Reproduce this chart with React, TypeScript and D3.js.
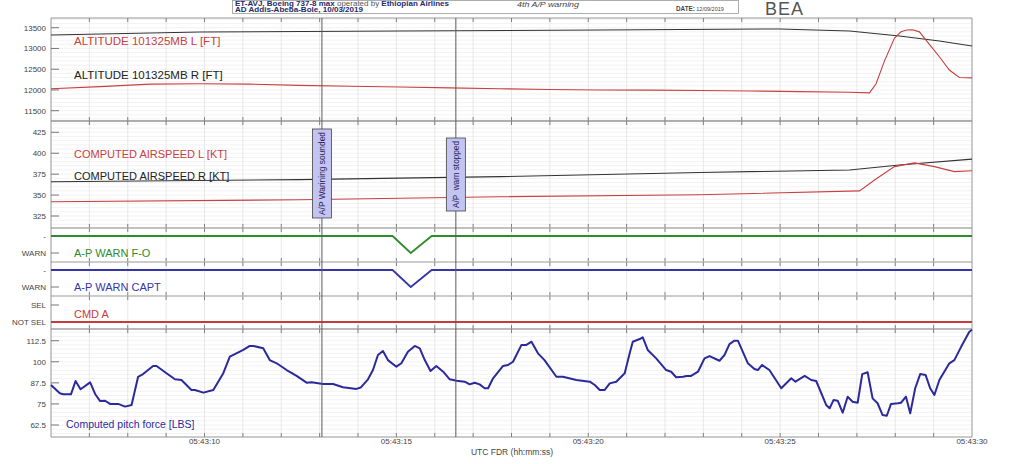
import React from "react";
import * as d3 from "d3";

const W = 1024;
const H = 464;
const FONT = "'Liberation Sans', Arial, sans-serif";

// time in seconds after 05:43:00
const altLT = [6.0, 7.28, 8.58, 9.88, 11.18, 12.48, 13.79, 15.09, 16.39, 17.69, 19.0, 20.3, 21.6, 22.9, 24.2, 25.5, 26.81, 27.33, 27.5, 27.72, 27.98, 28.15, 28.3, 28.45, 28.63, 28.89, 29.15, 29.41, 29.67, 30.0];
const altLV = [12030, 12080, 12140, 12150, 12140, 12110, 12090, 12070, 12050, 12030, 12010, 12000, 11995, 11985, 11975, 11960, 11945, 11930, 12150, 12700, 13250, 13400, 13445, 13450, 13400, 13100, 12800, 12480, 12300, 12290];
const altRT = [6.0, 9.88, 15.09, 20.3, 24.99, 26.81, 28.11, 29.15, 30.0];
const altRV = [13325, 13397, 13420, 13445, 13470, 13420, 13300, 13180, 13060];

const iasLT = [6.0, 12.48, 17.69, 22.9, 27.07, 27.46, 27.98, 28.5, 29.02, 29.54, 30.0];
const iasLV = [342, 344.4, 348, 350.4, 355, 368, 384, 388.5, 384, 378, 379];
const iasRT = [6.0, 12.48, 17.69, 22.9, 26.81, 28.11, 30.0];
const iasRV = [366, 368.5, 372, 377, 380, 386, 393];

const warnT = [6.0, 14.9, 15.375, 15.92, 30.0];
const warnFO = [0, 0, 1, 0, 0];
const warnCAPT = [0, 0, 1, 0, 0];
const cmdT = [6.0, 30.0];
const cmdA = [0, 0];

const pitchT = [6.0, 6.23, 6.32, 6.52, 6.64, 6.77, 7.02, 7.15, 7.28, 7.41, 7.54, 7.75, 7.93, 8.10, 8.27, 8.40, 8.66, 8.75, 9.01, 9.23, 9.40, 9.66, 9.75, 9.97, 10.23, 10.49, 10.66, 10.92, 11.01, 11.18, 11.27, 11.53, 11.70, 11.88, 12.14, 12.40, 12.66, 12.79, 13.09, 13.35, 13.61, 13.96, 14.07, 14.26, 14.39, 14.52, 14.65, 14.78, 15.00, 15.13, 15.30, 15.48, 15.61, 15.74, 15.89, 16.04, 16.22, 16.39, 16.57, 16.78, 16.91, 17.04, 17.17, 17.30, 17.39, 17.52, 17.78, 17.91, 18.04, 18.26, 18.39, 18.52, 18.69, 18.86, 19.17, 19.34, 19.69, 20.04, 20.17, 20.30, 20.43, 20.56, 20.73, 20.95, 21.08, 21.16, 21.34, 21.42, 21.55, 21.77, 22.03, 22.16, 22.29, 22.47, 22.56, 22.68, 22.86, 23.03, 23.16, 23.42, 23.55, 23.68, 23.81, 23.90, 24.16, 24.33, 24.42, 24.53, 24.72, 25.03, 25.29, 25.40, 25.64, 25.81, 25.94, 26.20, 26.29, 26.39, 26.50, 26.63, 26.76, 26.89, 27.02, 27.14, 27.28, 27.41, 27.54, 27.67, 27.78, 27.89, 28.07, 28.15, 28.28, 28.39, 28.52, 28.65, 28.79, 28.91, 29.02, 29.15, 29.41, 29.54, 29.72, 29.93, 30.0];
const pitchV = [86.2, 81.3, 80.7, 80.7, 88.6, 83.7, 87.8, 80.9, 76.7, 76.9, 75.0, 75.0, 73.4, 74.4, 91.1, 92.7, 97.5, 97.5, 93.2, 89.6, 89.2, 83.3, 83.3, 81.7, 83.3, 93.2, 103, 106, 107, 109.4, 109.4, 108, 101, 99.1, 95.1, 91.6, 87.6, 87.8, 86.8, 86.8, 84.9, 83.9, 84.7, 89.6, 95.1, 104, 106.4, 101, 97.1, 99.1, 106, 109.4, 108, 101, 94.5, 97.5, 94.1, 89.6, 88.8, 88.2, 86.6, 87.6, 86.6, 84.3, 84.3, 90.2, 97.5, 98.1, 100, 110, 110, 111.9, 105, 101, 91.1, 91.1, 89.2, 88.2, 86.2, 83.3, 83.3, 87.2, 88.2, 93.2, 105, 111.9, 113.5, 114.5, 107, 102, 95.1, 94.1, 90.8, 91.1, 91.6, 91.6, 94.1, 102, 103.4, 100.6, 104, 110.5, 112.5, 112.5, 99.1, 95.7, 95.1, 98.1, 95.1, 84.3, 90.2, 88.2, 91.6, 89.2, 88.6, 74.4, 72.4, 77.3, 76.9, 69.8, 79.3, 76.3, 75.7, 92.7, 93.8, 78.3, 75.4, 68.4, 68.0, 75.0, 75.4, 75.7, 79.3, 69.4, 84.3, 92.7, 92.2, 84.3, 80.3, 89.2, 99.1, 101, 109, 117.8, 119];

const altTicks = [11500, 12000, 12500, 13000, 13500];
const iasTicks = [325, 350, 375, 400, 425];
const pitchTicks = [62.5, 75, 87.5, 100, 112.5];
const xLabelTicks = [10, 15, 20, 25, 30];
const warnLabels = ["-", "WARN"];
const cmdLabels = ["NOT SEL", "SEL"];

const eventTimes = [13.06, 16.55];
const eventLabels = ["A/P Warining sounded", "A/P  warn stopped"];

const X0 = 51;
const X1 = 972;
const x = d3.scaleLinear().domain([6, 30]).range([X0, X1]);

const yAlt = d3.scaleLinear().domain([11500, 13500]).range([110.7, 27.7]);
const yIas = d3.scaleLinear().domain([325, 425]).range([216, 132.3]);
const yFO = d3.scaleLinear().domain([0, 1]).range([236, 253]);
const yCapt = d3.scaleLinear().domain([0, 1]).range([270, 287]);
const yCmd = d3.scaleLinear().domain([0, 1]).range([322, 305]);
const yPitch = d3.scaleLinear().domain([62.5, 112.5]).range([425, 340.7]);

const panels = [
  { top: 18, bottom: 121, y: yAlt, minor: 100, border: "#8a8a8a" },
  { top: 121, bottom: 228, y: yIas, minor: 5, border: "#8a8a8a" },
  { top: 228, bottom: 262, y: null, minor: 0, border: "#b5b5b5" },
  { top: 262, bottom: 296, y: null, minor: 0, border: "#b5b5b5" },
  { top: 296, bottom: 329, y: null, minor: 0, border: "#b5b5b5" },
  { top: 329, bottom: 437, y: yPitch, minor: 2.5, border: "#8a8a8a" },
];

function pathOf(ts: number[], vs: number[], y: d3.ScaleLinear<number, number>) {
  const pts = ts.map((t, i) => [t, vs[i]] as [number, number]);
  return d3.line<[number, number]>().x((d) => x(d[0])).y((d) => y(d[1]))(pts) || "";
}

function fmtTime(s: number) {
  return "05:43:" + String(s).padStart(2, "0");
}

export default function App() {
  const secs = d3.range(7, 30, 1);
  const labelStyle = { fontFamily: FONT, fontSize: 8, fill: "#444" } as const;

  return (
    <div style={{ position: "absolute", left: 0, top: 0, width: W, height: H, background: "#fff" }}>
      <svg width={W} height={H} style={{ display: "block" }}>
        <rect x={0} y={0} width={W} height={H} fill="#fff" />

        {/* header */}
        <rect x={232.5} y={0.5} width={506} height={13} fill="#fff" stroke="#999" strokeWidth={0.8} />
        <text x={235} y={6} fontFamily={FONT} fontSize={6.3} fill="#1f2a6a" textLength={214} lengthAdjust="spacingAndGlyphs">
          <tspan fontWeight="bold">ET-AVJ, Boeing 737-8 max</tspan>
          <tspan fill="#555"> operated by </tspan>
          <tspan fontWeight="bold">Ethiopian Airlines</tspan>
        </text>
        <text x={235} y={12} fontFamily={FONT} fontSize={6.3} fontWeight="bold" fill="#1f2a6a" textLength={128} lengthAdjust="spacingAndGlyphs">
          AD Addis-Abeba-Bole, 10/03/2019
        </text>
        <text x={517} y={7} fontFamily={FONT} fontSize={6.8} fontStyle="italic" fill="#444" textLength={62} lengthAdjust="spacingAndGlyphs">
          4th A/P warning
        </text>
        <text x={676} y={11} fontFamily={FONT} fontSize={6.3} fill="#444">
          <tspan fontWeight="bold">DATE:</tspan>
          <tspan fontSize={5.5}> 12/09/2019</tspan>
        </text>
        <text x={765} y={15} fontFamily={FONT} fontSize={18} fill="#555" letterSpacing={1}>
          BEA
        </text>

        {/* grids */}
        {panels.map((p, i) => (
          <g key={"g" + i}>
            {p.y &&
              d3
                .range(Math.ceil(p.y.invert(p.bottom) / p.minor) * p.minor, p.y.invert(p.top), p.minor)
                .map((v, j) => (
                  <line key={j} x1={X0} x2={X1} y1={p.y!(v)} y2={p.y!(v)} stroke="#ededed" strokeWidth={0.7} />
                ))}
            {secs.map((s) => (
              <line key={s} x1={x(s)} x2={x(s)} y1={p.top} y2={p.bottom} stroke="#e2e2e2" strokeWidth={0.8} />
            ))}
            {secs.map((s) => (
              <g key={"t" + s}>
                <line x1={x(s)} x2={x(s)} y1={p.top} y2={p.top + 4} stroke="#666" strokeWidth={0.8} />
                <line x1={x(s)} x2={x(s)} y1={p.bottom} y2={p.bottom - 4} stroke="#666" strokeWidth={0.8} />
              </g>
            ))}
            <line x1={X0} x2={X1} y1={p.top} y2={p.top} stroke={p.border} strokeWidth={0.9} />
            <line x1={X0} x2={X1} y1={p.bottom} y2={p.bottom} stroke={p.border} strokeWidth={0.9} />
          </g>
        ))}
        <line x1={X0} x2={X0} y1={18} y2={437} stroke="#8a8a8a" strokeWidth={0.9} />
        <line x1={X1} x2={X1} y1={18} y2={437} stroke="#8a8a8a" strokeWidth={0.9} />

        {/* y ticks */}
        {altTicks.map((v) => (
          <g key={"a" + v}>
            <line x1={X0} x2={X0 + 8} y1={yAlt(v)} y2={yAlt(v)} stroke="#777" />
            <text x={46} y={yAlt(v) + 3} textAnchor="end" {...labelStyle}>{v}</text>
          </g>
        ))}
        {iasTicks.map((v) => (
          <g key={"i" + v}>
            <line x1={X0} x2={X0 + 8} y1={yIas(v)} y2={yIas(v)} stroke="#777" />
            <text x={46} y={yIas(v) + 3} textAnchor="end" {...labelStyle}>{v}</text>
          </g>
        ))}
        {pitchTicks.map((v) => (
          <g key={"p" + v}>
            <line x1={X0} x2={X0 + 8} y1={yPitch(v)} y2={yPitch(v)} stroke="#777" />
            <text x={46} y={yPitch(v) + 3} textAnchor="end" {...labelStyle}>{v}</text>
          </g>
        ))}
        {[yFO, yCapt].map((ys, k) =>
          warnLabels.map((l, v) => (
            <g key={"w" + k + v}>
              <line x1={X0} x2={X0 + 8} y1={ys(v)} y2={ys(v)} stroke="#777" />
              <text x={46} y={ys(v) + 3} textAnchor="end" {...labelStyle}>{l}</text>
            </g>
          ))
        )}
        {cmdLabels.map((l, v) => (
          <g key={"c" + v}>
            <line x1={X0} x2={X0 + 8} y1={yCmd(v)} y2={yCmd(v)} stroke="#777" />
            <text x={46} y={yCmd(v) + 3} textAnchor="end" {...labelStyle}>{l}</text>
          </g>
        ))}

        {/* x labels */}
        {xLabelTicks.map((s) => (
          <text key={s} x={x(s)} y={444} textAnchor="middle" {...labelStyle}>{fmtTime(s)}</text>
        ))}
        <text x={512} y={455} textAnchor="middle" fontFamily={FONT} fontSize={8.5} fill="#444">
          UTC FDR (hh:mm:ss)
        </text>

        {/* series */}
        <path d={pathOf(altRT, altRV, yAlt)} fill="none" stroke="#333" strokeWidth={1.1} />
        <path d={pathOf(altLT, altLV, yAlt)} fill="none" stroke="#c84040" strokeWidth={1.1} />
        <path d={pathOf(iasRT, iasRV, yIas)} fill="none" stroke="#333" strokeWidth={1.1} />
        <path d={pathOf(iasLT, iasLV, yIas)} fill="none" stroke="#c84040" strokeWidth={1.1} />
        <path d={pathOf(warnT, warnFO, yFO)} fill="none" stroke="#2e8b2e" strokeWidth={1.8} />
        <path d={pathOf(warnT, warnCAPT, yCapt)} fill="none" stroke="#3535a8" strokeWidth={1.8} />
        <path d={pathOf(cmdT, cmdA, yCmd)} fill="none" stroke="#c83a3a" strokeWidth={2} />
        <path d={pathOf(pitchT, pitchV, yPitch)} fill="none" stroke="#2a2a9c" strokeWidth={2} strokeLinejoin="round" />

        {/* series labels */}
        <text x={74} y={45} fontFamily={FONT} fontSize={11.5} fill="#c84040">ALTITUDE 101325MB L [FT]</text>
        <text x={74} y={79} fontFamily={FONT} fontSize={11.5} fill="#222">ALTITUDE 101325MB R [FT]</text>
        <text x={74} y={158} fontFamily={FONT} fontSize={11} fill="#c84040">COMPUTED AIRSPEED L [KT]</text>
        <text x={74} y={180} fontFamily={FONT} fontSize={11} fill="#222">COMPUTED AIRSPEED R [KT]</text>
        <text x={74} y={257} fontFamily={FONT} fontSize={11} fill="#2e8b2e">A-P WARN F-O</text>
        <text x={74} y={291} fontFamily={FONT} fontSize={11} fill="#3535a8">A-P WARN CAPT</text>
        <text x={74} y={318} fontFamily={FONT} fontSize={11} fill="#c83a3a">CMD A</text>
        <text x={66} y={428} fontFamily={FONT} fontSize={10.5} fill="#2a2a9c">Computed pitch force [LBS]</text>

        {/* event lines */}
        {eventTimes.map((t) => (
          <line key={t} x1={x(t)} x2={x(t)} y1={18} y2={437} stroke="#5a5a5a" strokeWidth={1} />
        ))}
        {[
          { t: eventTimes[0], y0: 129, y1: 218, label: eventLabels[0] },
          { t: eventTimes[1], y0: 138, y1: 211, label: eventLabels[1] },
        ].map((b) => (
          <g key={b.label}>
            <rect x={x(b.t) - 9.5} y={b.y0} width={19} height={b.y1 - b.y0} fill="#c4c4f2" stroke="#444" strokeWidth={0.8} />
            <text
              transform={`translate(${x(b.t) + 3.5},${(b.y0 + b.y1) / 2}) rotate(-90)`}
              textAnchor="middle"
              fontFamily={FONT}
              fontSize={9.5}
              fill="#1c1c50"
              textLength={b.y1 - b.y0 - 6}
              lengthAdjust="spacingAndGlyphs"
              style={{ whiteSpace: "pre" }}
            >
              {b.label}
            </text>
          </g>
        ))}
      </svg>
    </div>
  );
}
